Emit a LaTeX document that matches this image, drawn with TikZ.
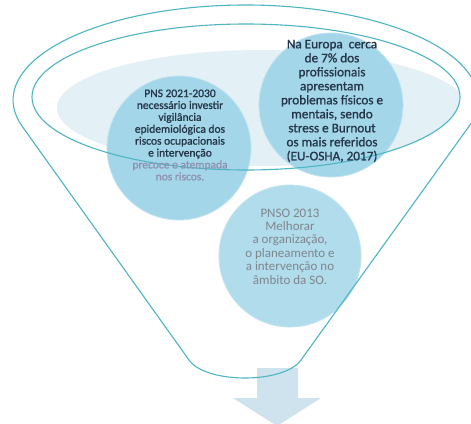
\documentclass[tikz,border=0pt]{standalone}
\usepackage{fontspec}
\setmainfont{Carlito}
\newfontfamily\heavyfont[FakeBold=1.1]{Carlito}
\begin{document}
\begin{tikzpicture}[x=1pt,y=-1pt]
\definecolor{rim}{HTML}{4DB5C3}
\definecolor{bubblefill}{HTML}{A3D6E9}
\definecolor{bubbleedge}{HTML}{C2E4F0}
\definecolor{mouthfill}{HTML}{E3F0F5}
\definecolor{arrowfill}{HTML}{CFE3EE}
\definecolor{darktext}{HTML}{26364A}
\definecolor{fadetext}{HTML}{8E92B0}
\definecolor{greytext}{HTML}{7F868C}
\tikzset{
  bubble/.style={circle, fill=bubblefill, draw=bubbleedge, line width=0.8pt, minimum size=#1, inner sep=0pt},
  rimline/.style={draw=rim, line width=1.1pt},
  txt/.style={align=center, inner sep=0pt, text=darktext},
}
\useasboundingbox (0,0) rectangle (471,423);
\clip (0,0) rectangle (471,423);
\fill[white] (0,0) rectangle (471,423);
% funnel body
\coordinate (fl) at (22.1,126.2);
\coordinate (fr) at (468.9,126.2);
\coordinate (bl) at (189,360);
\coordinate (br) at (301,360);
\fill[white] (fl) arc[start angle=164, end angle=376, x radius=232.5, y radius=95] -- (br) .. controls (284,384) and (206,384) .. (bl) -- cycle;
% mouth fill
\begin{scope}
  \clip (246,97) ellipse [x radius=214, y radius=73];
  \fill[mouthfill] (262,108) ellipse [x radius=205, y radius=58];
\end{scope}
% arrow
\fill[arrowfill] (257,368) -- (298,368) -- (298,398) -- (321,398) -- (277,426) -- (233,398) -- (257,398) -- cycle;
% circles
\node[bubble=144pt] (c1) at (179,148) {};
\node[bubble=144pt] (c2) at (331,105) {};
\node[bubble=142pt, fill=bubblefill!85!white] (c3) at (290,256) {};
% rim and funnel outline
\draw[rimline] (246,97) ellipse [x radius=214, y radius=73];
\draw[rimline] (fl) arc[start angle=164, end angle=376, x radius=232.5, y radius=95] -- (br) .. controls (284,384) and (206,384) .. (bl) -- cycle;
% texts
\node[txt, font=\heavyfont\fontsize{11.5}{11.9}\selectfont] (t1) at (180,135) {PNS 2021-2030\\necessário investir\\vigilância\\epidemiológica dos\\riscos ocupacionais\\e intervenção\\{\color{fadetext}precoce e atempada}\\{\color{fadetext}nos riscos.}};
\node[txt, font=\heavyfont\fontsize{13.2}{14}\selectfont] (t2) at (332,101) {Na Europa\ \ cerca\\de 7\% dos\\profissionais\\apresentam\\problemas físicos e\\mentais, sendo\\stress e Burnout\\os mais referidos\\(EU-OSHA, 2017)};
\node[txt, text=greytext, font=\fontsize{13}{13.4}\selectfont] (t3) at (290,246.5) {PNSO 2013\\Melhorar\\a organização,\\o planeamento e\\a intervenção no\\âmbito da SO.};
\end{tikzpicture}
\end{document}
